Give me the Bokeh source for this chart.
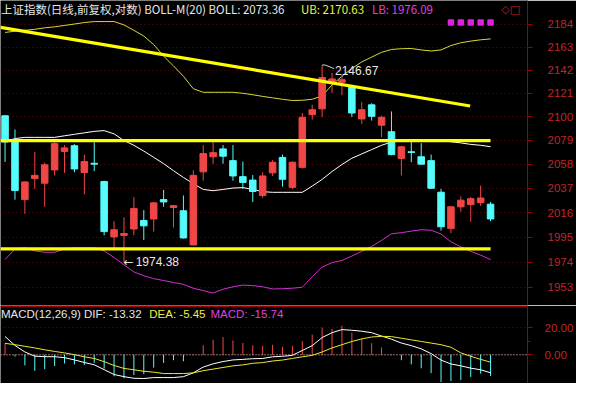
import math
from bokeh.plotting import figure
from bokeh.layouts import column
from bokeh.models import FixedTicker, PrintfTickFormatter, Label, ColumnDataSource, Span
from bokeh.embed import file_html
from bokeh.resources import INLINE

# ---------------- data ----------------
opens = [2100.8, 2078.4, 2027.2, 2045.4, 2041.4, 2053.0, 2069.2, 2074.2, 2050.7, 2058.8,
         2042.9, 1995.3, 1996.6, 2002.0, 2009.3, 2010.6, 2027.2, 2020.4, 2017.6, 1988.5,
         2051.3, 2064.5, 2071.4, 2061.1, 2047.1, 2044.1, 2030.8, 2050.4, 2063.9, 2037.8,
         2055.2, 2101.8, 2107.0, 2131.0, 2131.0, 2126.8, 2098.0, 2110.6, 2092.4, 2086.6,
         2063.0, 2068.9, 2064.5, 2061.1, 2033.6, 2002.5, 2021.0, 2023.0, 2024.6, 2023.3]
highs = [2101.5, 2088.6, 2043.0, 2068.7, 2059.4, 2079.0, 2074.8, 2075.6, 2066.4, 2077.3,
         2043.5, 2008.7, 2012.0, 2029.4, 2018.2, 2025.2, 2035.6, 2022.5, 2030.8, 2052.7,
         2074.8, 2077.2, 2074.8, 2074.8, 2060.3, 2048.5, 2051.0, 2061.6, 2066.4, 2060.3,
         2103.3, 2110.6, 2146.67, 2139.5, 2138.0, 2128.6, 2113.0, 2112.0, 2100.9, 2104.7,
         2074.2, 2077.7, 2076.5, 2066.4, 2036.4, 2021.6, 2030.0, 2029.4, 2039.3, 2025.2]
lows = [2060.0, 2027.2, 2015.0, 2036.6, 2021.0, 2048.2, 2050.4, 2051.0, 2031.7, 2051.9,
        1996.6, 1985.9, 1974.38, 1996.6, 1992.6, 1999.8, 2021.0, 2003.3, 1993.9, 1988.0,
        2043.6, 2058.3, 2058.3, 2043.6, 2036.4, 2025.2, 2028.8, 2047.7, 2038.4, 2036.4,
        2054.0, 2097.4, 2099.7, 2121.3, 2119.3, 2099.7, 2093.6, 2096.5, 2081.9, 2065.8,
        2048.2, 2059.7, 2057.4, 2036.4, 2000.6, 1998.4, 2016.8, 2008.2, 2021.8, 2008.7]
closes = [2077.5, 2035.0, 2042.5, 2048.2, 2057.4, 2076.0, 2072.3, 2053.8, 2060.3, 2058.0,
          1999.8, 2001.4, 1998.2, 2019.5, 2004.7, 2024.4, 2025.2, 2022.0, 1994.4, 2048.2,
          2067.3, 2068.1, 2065.0, 2047.7, 2042.1, 2034.2, 2047.7, 2059.7, 2044.8, 2059.7,
          2099.4, 2106.2, 2135.3, 2134.0, 2133.3, 2103.3, 2106.2, 2100.3, 2099.4, 2066.4,
          2073.3, 2068.3, 2058.0, 2037.0, 2003.9, 2021.0, 2026.7, 2028.0, 2028.6, 2010.6]

boll_mid = [2078.2, 2080.5, 2081.6, 2081.6, 2081.6, 2081.6, 2083.0, 2084.3, 2085.6, 2086.9,
            2087.6, 2084.7, 2078.8, 2074.6, 2069.5, 2064.0, 2058.5, 2052.3, 2046.4, 2041.0,
            2036.0, 2034.9, 2036.0, 2037.2, 2037.6, 2036.0, 2034.1, 2033.5, 2033.5, 2033.5,
            2033.5, 2038.9, 2044.7, 2051.6, 2057.7, 2063.2, 2067.0, 2070.8, 2074.6, 2077.5,
            2078.4, 2078.8, 2078.8, 2078.8, 2078.6, 2077.7, 2076.7, 2075.4, 2074.6, 2073.36]
boll_up = [2176.6, 2177.8, 2178.6, 2179.5, 2180.9, 2181.8, 2183.1, 2184.4, 2185.8, 2186.7,
           2186.7, 2186.7, 2183.6, 2178.6, 2173.3, 2165.4, 2154.8, 2145.8, 2136.4, 2125.1,
           2121.9, 2121.9, 2121.9, 2121.9, 2121.0, 2119.7, 2118.2, 2116.9, 2115.6, 2114.5,
           2114.7, 2115.6, 2118.6, 2128.6, 2136.4, 2143.4, 2149.5, 2153.9, 2158.3, 2160.9,
           2161.6, 2161.8, 2160.5, 2159.5, 2160.5, 2164.5, 2167.1, 2168.6, 2169.8, 2170.63]
boll_low = [1976.2, 1985.1, 1986.0, 1983.5, 1982.3, 1982.3, 1985.1, 1986.0, 1986.0, 1986.0,
            1983.5, 1977.9, 1971.8, 1965.8, 1962.6, 1960.2, 1958.6, 1957.0, 1955.4, 1952.2,
            1950.2, 1948.2, 1951.4, 1953.4, 1954.8, 1954.4, 1953.4, 1951.6, 1951.8, 1952.2,
            1953.0, 1961.8, 1969.8, 1973.6, 1975.4, 1979.1, 1983.1, 1987.2, 1992.4, 1997.9,
            1998.9, 2000.2, 2001.4, 2001.0, 1997.7, 1991.2, 1986.8, 1983.1, 1979.9, 1976.09]

dif = [13.6, 6.9, 2.1, -1.0, -1.4, -1.4, -2.1, -3.8, -5.7, -7.4,
       -11.0, -14.6, -16.2, -17.4, -17.6, -16.9, -16.9, -16.9, -16.2, -13.4,
       -9.1, -6.7, -5.0, -3.8, -3.4, -2.9, -2.7, -1.5, -1.1, -0.4,
       3.2, 6.8, 12.8, 16.4, 18.7, 18.2, 17.5, 16.4, 13.9, 11.6,
       8.7, 6.8, 4.4, 0.9, -3.9, -6.8, -8.2, -9.9, -11.1, -13.32]
dea = [8.5, 7.5, 6.3, 5.1, 3.7, 2.5, 1.4, 0.1, -1.5, -2.7,
       -5.1, -7.9, -10.1, -11.1, -12.2, -12.9, -13.9, -13.9, -13.9, -13.4,
       -11.8, -10.6, -9.4, -8.2, -7.5, -6.3, -5.8, -4.6, -3.9, -2.7,
       -1.5, -0.4, 2.1, 5.1, 7.5, 9.9, 11.8, 13.2, 13.7, 13.5,
       12.3, 11.1, 9.9, 8.7, 7.5, 5.6, 1.4, -1.1, -3.4, -5.45]
macd = [8.8, -1.2, -7.9, -11.9, -10.7, -8.3, -6.4, -7.1, -7.6, -6.0,
        -10.2, -16.0, -17.4, -15.0, -14.3, -9.5, -6.0, -4.0, -4.8, -0.3,
        7.1, 11.2, 13.1, 10.7, 8.8, 7.1, 6.7, 7.4, 6.0, 6.7,
        10.2, 15.0, 20.2, 19.3, 21.7, 16.4, 11.9, 8.6, 5.5, -0.3,
        -4.0, -7.1, -10.0, -13.6, -20.2, -19.5, -18.8, -16.4, -14.0, -15.74]

price_ticks = [1953, 1974, 1995, 2016, 2037, 2058, 2079, 2100, 2121, 2142, 2163, 2184]
macd_ticks = [0, 20]
signal_idx = [45, 46, 47, 48, 49]

# user-drawn trend lines (start/end in bar index and price)
trend_down_x = [-0.46, 46.94]
trend_down_y = [2181.3, 2109.6]
resist_x = [-0.46, 49.0]
resist_y = [2078.8, 2078.8]
support_x = [-0.46, 49.0]
support_y = [1985.1, 1985.1]

# ---------------- helpers for annotation placement ----------------
def xpos(px):
    return (px - 4.7) / 10.19

def ypos(py):
    return 1953 * math.exp((299 - py) / 2451)

def mpos(py):
    return (369.2 - py) / 1.4

RED = "#f04646"
CYAN = "#54fcfc"
AXIS_RED = "#a00000"
LABEL_RED = "#c42424"
GRID_RED = "#800000"

n = len(opens)
idx = list(range(n))
is_up = [c >= o for o, c in zip(opens, closes)]
colors = [RED if u else CYAN for u in is_up]
src = ColumnDataSource(dict(
    x=idx, o=opens, h=highs, l=lows, c=closes,
    top=[max(o, c) for o, c in zip(opens, closes)],
    bot=[min(o, c) for o, c in zip(opens, closes)],
    color=colors,
))

x_lo, x_hi = xpos(0), xpos(542)
y_lo, y_hi = ypos(318), ypos(0)

p = figure(width=576, height=305, x_range=(x_lo, x_hi), y_range=(y_lo, y_hi),
           y_axis_type="log", x_axis_location=None, y_axis_location="right",
           toolbar_location=None, output_backend="svg",
           background_fill_color="black", border_fill_color="black",
           min_border_left=0, min_border_top=0, min_border_bottom=0, min_border_right=49)
p.outline_line_color = None
p.xgrid.visible = False
p.ygrid.grid_line_color = GRID_RED
p.ygrid.grid_line_dash = "1 3"
ax = p.yaxis[0]
ax.ticker = FixedTicker(ticks=price_ticks, minor_ticks=[])
ax.formatter = PrintfTickFormatter(format="%d")
ax.axis_line_color = AXIS_RED
ax.major_tick_line_color = AXIS_RED
ax.major_tick_out = 5
ax.major_tick_in = 0
ax.minor_tick_line_color = None
ax.major_label_text_color = LABEL_RED
ax.major_label_text_font = "Liberation Sans"
ax.major_label_text_font_size = "11.5px"
ax.major_label_standoff = 15

# Bollinger bands
p.line(idx, boll_up, line_color="#d8d830", line_width=1)
p.line(idx, boll_mid, line_color="#ffffff", line_width=1)
p.line(idx, boll_low, line_color="#d030d0", line_width=1)

# candles
p.segment(x0="x", y0="h", x1="x", y1="l", line_color="color", line_width=1, source=src)
p.vbar(x="x", width=0.66, top="top", bottom="bot", fill_color="color", line_color="color",
       line_width=1, source=src)

# trend lines
for xs, ys in ((trend_down_x, trend_down_y), (resist_x, resist_y), (support_x, support_y)):
    p.line(xs, ys, line_color="#ffff00", line_width=3.2)

# signal markers
p.scatter(signal_idx, [ypos(23)] * len(signal_idx), marker="square_x", size=5, line_width=1.5,
          line_color="#e020e0", fill_color="#e020e0")

# high / low annotations
hi_i = highs.index(max(highs))
lo_i = lows.index(min(lows))
p.line([hi_i, hi_i + 0.3, xpos(343)], [max(highs), max(highs), ypos(71)],
       line_color="#d0d0d0", line_width=1)
p.add_layout(Label(x=xpos(344), y=ypos(73), text="%.2f" % max(highs), text_color="#e8e8e8",
                   text_font="Liberation Sans", text_font_size="12px", text_baseline="middle"))
p.add_layout(Label(x=lo_i - 0.05, y=min(lows), text="\u2190", text_color="#e8e8e8",
                   text_font="DejaVu Sans", text_font_size="12px", text_baseline="middle"))
p.add_layout(Label(x=xpos(139), y=min(lows), text="%.2f" % min(lows), text_color="#e8e8e8",
                   text_font="Liberation Sans", text_font_size="12px", text_baseline="middle"))

# title row
p.add_layout(Label(x=xpos(0.5), y=ypos(9), text="上证指数(日线,前复权,对数) BOLL-M(20) BOLL: 2073.36",
                   text_color="#e8e8e8", text_font="Noto Sans CJK SC", text_font_size="11.5px",
                   text_baseline="middle"))
p.add_layout(Label(x=xpos(309), y=ypos(9), text="UB: 2170.63", text_color="#f0f040",
                   text_font="Noto Sans CJK SC", text_font_size="11.5px", text_baseline="middle"))
p.add_layout(Label(x=xpos(382), y=ypos(9), text="LB: 1976.09", text_color="#e040e0",
                   text_font="Noto Sans CJK SC", text_font_size="11.5px", text_baseline="middle"))
p.add_layout(Label(x=xpos(515), y=ypos(9), text="\u25c7\u25a1", text_color="#c02020",
                   text_font="DejaVu Sans", text_font_size="11px", text_baseline="middle"))

# ---------------- MACD panel ----------------
p2 = figure(width=576, height=78, x_range=p.x_range, y_range=(mpos(399), mpos(318)),
            x_axis_location=None, y_axis_location="right",
            toolbar_location=None, output_backend="svg",
            background_fill_color="black", border_fill_color="black",
            min_border_left=0, min_border_top=0, min_border_bottom=0, min_border_right=49)
p2.outline_line_color = None
p2.xgrid.visible = False
p2.ygrid.grid_line_color = GRID_RED
p2.ygrid.grid_line_dash = "1 3"
ax2 = p2.yaxis[0]
ax2.ticker = FixedTicker(ticks=macd_ticks, minor_ticks=[10])
ax2.formatter = PrintfTickFormatter(format="%.2f")
ax2.axis_line_color = AXIS_RED
ax2.major_tick_line_color = AXIS_RED
ax2.minor_tick_line_color = AXIS_RED
ax2.major_tick_out = 5
ax2.major_tick_in = 0
ax2.minor_tick_out = 3
ax2.minor_tick_in = 0
ax2.major_label_text_color = LABEL_RED
ax2.major_label_text_font = "Liberation Sans"
ax2.major_label_text_font_size = "11.5px"
ax2.major_label_standoff = 12

p2.add_layout(Span(location=mpos(318.8), dimension="width", line_color=AXIS_RED, line_width=1.5))
p2.add_layout(Span(location=0, dimension="width", line_color="#e0e0e0", line_dash="1 2", line_width=1))

bar_colors = [RED if v >= 0 else CYAN for v in macd]
p2.segment(x0=idx, y0=[0] * n, x1=idx, y1=macd, line_color=bar_colors, line_width=1)
p2.line(idx, dif, line_color="#ffffff", line_width=1)
p2.line(idx, dea, line_color="#e8e830", line_width=1)

p2.add_layout(Label(x=xpos(0.5), y=mpos(327), text="MACD(12,26,9) DIF: -13.32", text_color="#e8e8e8",
                    text_font="Liberation Sans", text_font_size="11.5px", text_baseline="middle"))
p2.add_layout(Label(x=xpos(153), y=mpos(327), text="DEA: -5.45", text_color="#f0f040",
                    text_font="Liberation Sans", text_font_size="11.5px", text_baseline="middle"))
p2.add_layout(Label(x=xpos(216), y=mpos(327), text="MACD: -15.74", text_color="#e040e0",
                    text_font="Liberation Sans", text_font_size="11.5px", text_baseline="middle"))

layout = column(p, p2, spacing=0)
open("out.html", "w").write(file_html(layout, INLINE))
